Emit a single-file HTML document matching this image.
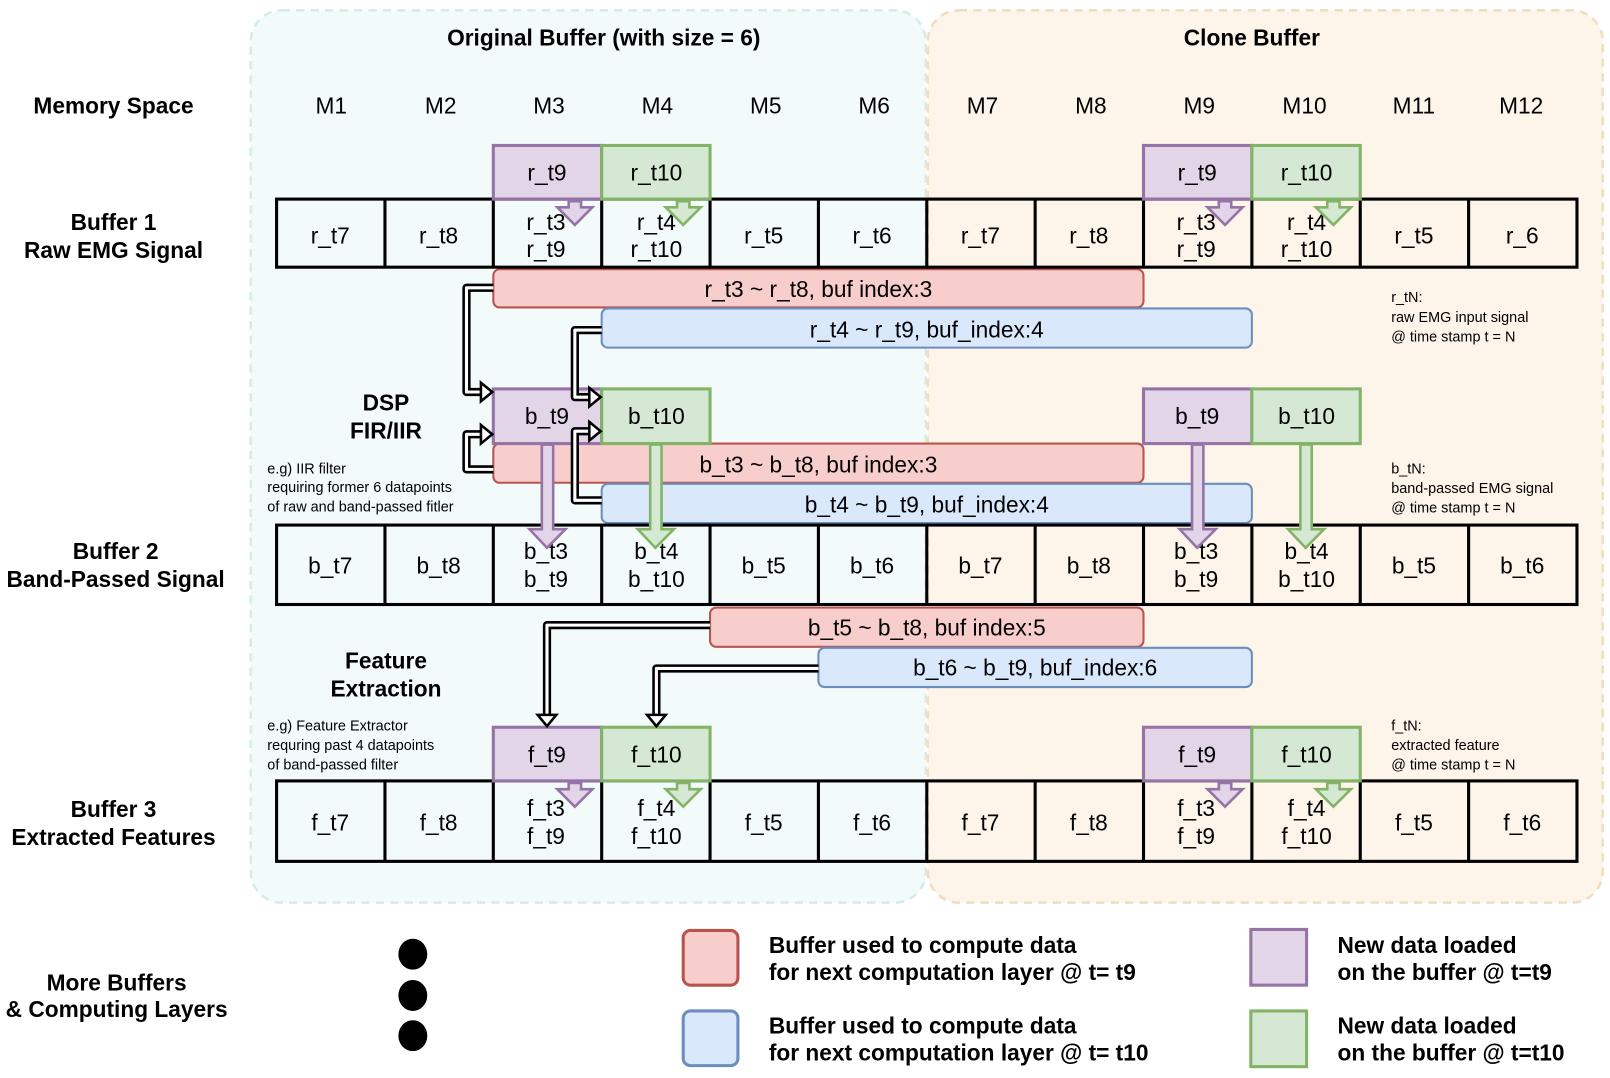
<!DOCTYPE html>
<html><head><meta charset="utf-8"><style>html,body{margin:0;padding:0;background:#fff}svg{display:block}text{font-family:"Liberation Sans",Arial,sans-serif;fill:#000}</style></head>
<body>
<svg width="1610" height="1078" viewBox="0 0 1560 1045" preserveAspectRatio="none" xmlns="http://www.w3.org/2000/svg">
<!-- panels -->
<rect x="243" y="10" width="654" height="865" rx="30" fill="#f2fbfa" stroke="#d4ecea" stroke-width="2.5" stroke-dasharray="8,6"/>
<rect x="899" y="10" width="654" height="865" rx="30" fill="#fdf4ea" stroke="#f2dcc2" stroke-width="2.5" stroke-dasharray="8,6"/>
<g font-size="22" text-anchor="middle">
<text x="585" y="44" font-weight="bold">Original Buffer (with size = 6)</text>
<text x="1213" y="44" font-weight="bold">Clone Buffer</text>
<text x="110" y="110" font-weight="bold">Memory Space</text>
<text x="321" y="110">M1</text><text x="427" y="110">M2</text><text x="532" y="110">M3</text><text x="637" y="110">M4</text><text x="742" y="110">M5</text><text x="847" y="110">M6</text>
<text x="952" y="110">M7</text><text x="1057" y="110">M8</text><text x="1162" y="110">M9</text><text x="1264" y="110">M10</text><text x="1370" y="110">M11</text><text x="1474" y="110">M12</text>
<text x="110" y="223" font-weight="bold">Buffer 1</text><text x="110" y="250" font-weight="bold">Raw EMG Signal</text>
<text x="112" y="542" font-weight="bold">Buffer 2</text><text x="112" y="569" font-weight="bold">Band-Passed Signal</text>
<text x="110" y="792" font-weight="bold">Buffer 3</text><text x="110" y="819" font-weight="bold">Extracted Features</text>
<text x="374" y="398" font-weight="bold">DSP</text><text x="374" y="425" font-weight="bold">FIR/IIR</text>
<text x="374" y="648" font-weight="bold">Feature</text><text x="374" y="675" font-weight="bold">Extraction</text>
<text x="113" y="960" font-weight="bold">More Buffers</text><text x="113" y="986" font-weight="bold">&amp; Computing Layers</text>
</g>
<g font-size="14">
<text x="259" y="459">e.g) IIR filter</text><text x="259" y="477">requiring former 6 datapoints</text><text x="259" y="496">of raw and band-passed fitler</text>
<text x="259" y="708">e.g) Feature Extractor</text><text x="259" y="727">requring past 4 datapoints</text><text x="259" y="746">of band-passed filter</text>
<text x="1348" y="293">r_tN:</text><text x="1348" y="312">raw EMG input signal</text><text x="1348" y="331">@ time stamp t = N</text>
<text x="1348" y="459">b_tN:</text><text x="1348" y="478">band-passed EMG signal</text><text x="1348" y="497">@ time stamp t = N</text>
<text x="1348" y="708">f_tN:</text><text x="1348" y="727">extracted feature</text><text x="1348" y="746">@ time stamp t = N</text>
</g>
<!-- bars -->
<g stroke-width="2">
<rect x="478" y="261" width="630" height="37" rx="6" fill="#f8cecc" stroke="#b85450"/>
<rect x="583" y="299" width="630" height="38" rx="6" fill="#dae8fc" stroke="#6c8ebf"/>
<rect x="478" y="430" width="630" height="38" rx="6" fill="#f8cecc" stroke="#b85450"/>
<rect x="583" y="469" width="630" height="38" rx="6" fill="#dae8fc" stroke="#6c8ebf"/>
<rect x="688" y="589" width="420" height="38" rx="6" fill="#f8cecc" stroke="#b85450"/>
<rect x="793" y="628" width="420" height="38" rx="6" fill="#dae8fc" stroke="#6c8ebf"/>
</g>
<g font-size="22" text-anchor="middle">
<text x="793" y="288">r_t3 ~ r_t8, buf index:3</text>
<text x="898" y="327">r_t4 ~ r_t9, buf_index:4</text>
<text x="793" y="458">b_t3 ~ b_t8, buf index:3</text>
<text x="898" y="497">b_t4 ~ b_t9, buf_index:4</text>
<text x="898" y="616">b_t5 ~ b_t8, buf index:5</text>
<text x="1003" y="655">b_t6 ~ b_t9, buf_index:6</text>
</g>
<!-- grids -->
<g fill="none" stroke="#000" stroke-width="3">
<rect x="268" y="193" width="1260" height="66"/>
<rect x="268" y="509" width="1260" height="77"/>
<rect x="268" y="757" width="1260" height="78"/>
<path d="M373,193V259M478,193V259M583,193V259M688,193V259M793,193V259M898,193V259M1003,193V259M1108,193V259M1213,193V259M1318,193V259M1423,193V259"/>
<path d="M373,509V586M478,509V586M583,509V586M688,509V586M793,509V586M898,509V586M1003,509V586M1108,509V586M1213,509V586M1318,509V586M1423,509V586"/>
<path d="M373,757V835M478,757V835M583,757V835M688,757V835M793,757V835M898,757V835M1003,757V835M1108,757V835M1213,757V835M1318,757V835M1423,757V835"/>
</g>
<!-- new data boxes -->
<g stroke-width="3">
<rect x="478" y="141" width="105" height="52" fill="#e1d5e7" stroke="#9673a6"/><rect x="583" y="141" width="105" height="52" fill="#d5e8d4" stroke="#82b366"/>
<rect x="1108" y="141" width="105" height="52" fill="#e1d5e7" stroke="#9673a6"/><rect x="1213" y="141" width="105" height="52" fill="#d5e8d4" stroke="#82b366"/>
<rect x="478" y="377" width="105" height="53" fill="#e1d5e7" stroke="#9673a6"/><rect x="583" y="377" width="105" height="53" fill="#d5e8d4" stroke="#82b366"/>
<rect x="1108" y="377" width="105" height="53" fill="#e1d5e7" stroke="#9673a6"/><rect x="1213" y="377" width="105" height="53" fill="#d5e8d4" stroke="#82b366"/>
<rect x="478" y="705" width="105" height="52" fill="#e1d5e7" stroke="#9673a6"/><rect x="583" y="705" width="105" height="52" fill="#d5e8d4" stroke="#82b366"/>
<rect x="1108" y="705" width="105" height="52" fill="#e1d5e7" stroke="#9673a6"/><rect x="1213" y="705" width="105" height="52" fill="#d5e8d4" stroke="#82b366"/>
</g>
<!-- cell text -->
<g font-size="22" text-anchor="middle">
<text x="530" y="175">r_t9</text><text x="636" y="175">r_t10</text><text x="1160" y="175">r_t9</text><text x="1266" y="175">r_t10</text>
<text x="530" y="411">b_t9</text><text x="636" y="411">b_t10</text><text x="1160" y="411">b_t9</text><text x="1266" y="411">b_t10</text>
<text x="530" y="739">f_t9</text><text x="636" y="739">f_t10</text><text x="1160" y="739">f_t9</text><text x="1266" y="739">f_t10</text>

<text x="320" y="236">r_t7</text><text x="425" y="236">r_t8</text><text x="529" y="223">r_t3</text><text x="529" y="249">r_t9</text><text x="636" y="223">r_t4</text><text x="636" y="249">r_t10</text><text x="740" y="236">r_t5</text><text x="845" y="236">r_t6</text>
<text x="950" y="236">r_t7</text><text x="1055" y="236">r_t8</text><text x="1159" y="223">r_t3</text><text x="1159" y="249">r_t9</text><text x="1266" y="223">r_t4</text><text x="1266" y="249">r_t10</text><text x="1370" y="236">r_t5</text><text x="1475" y="236">r_6</text>

<text x="320" y="556">b_t7</text><text x="425" y="556">b_t8</text><text x="529" y="542">b_t3</text><text x="529" y="569">b_t9</text><text x="636" y="542">b_t4</text><text x="636" y="569">b_t10</text><text x="740" y="556">b_t5</text><text x="845" y="556">b_t6</text>
<text x="950" y="556">b_t7</text><text x="1055" y="556">b_t8</text><text x="1159" y="542">b_t3</text><text x="1159" y="569">b_t9</text><text x="1266" y="542">b_t4</text><text x="1266" y="569">b_t10</text><text x="1370" y="556">b_t5</text><text x="1475" y="556">b_t6</text>

<text x="320" y="805">f_t7</text><text x="425" y="805">f_t8</text><text x="529" y="791">f_t3</text><text x="529" y="818">f_t9</text><text x="636" y="791">f_t4</text><text x="636" y="818">f_t10</text><text x="740" y="805">f_t5</text><text x="845" y="805">f_t6</text>
<text x="950" y="805">f_t7</text><text x="1055" y="805">f_t8</text><text x="1159" y="791">f_t3</text><text x="1159" y="818">f_t9</text><text x="1266" y="791">f_t4</text><text x="1266" y="818">f_t10</text><text x="1370" y="805">f_t5</text><text x="1475" y="805">f_t6</text>
</g>
<!-- small hollow arrows -->
<g stroke-width="2.5" stroke-linejoin="miter">
<g fill="#e1d5e7" stroke="#9673a6">
<polygon points="551,195 563,195 563,201 574,201 557,218 540,201 551,201"/>
<polygon points="1181,195 1193,195 1193,201 1204,201 1187,218 1170,201 1181,201"/>
<polygon points="551,759 563,759 563,765 574,765 557,782 540,765 551,765"/>
<polygon points="1181,759 1193,759 1193,765 1204,765 1187,782 1170,765 1181,765"/>
<polygon points="525,431 536,431 536,513 548,513 530,531 513,513 525,513"/>
<polygon points="1155,431 1166,431 1166,513 1178,513 1160,531 1143,513 1155,513"/>
</g>
<g fill="#d5e8d4" stroke="#82b366">
<polygon points="656,195 668,195 668,201 679,201 662,218 645,201 656,201"/>
<polygon points="1286,195 1298,195 1298,201 1309,201 1292,218 1275,201 1286,201"/>
<polygon points="656,759 668,759 668,765 679,765 662,782 645,765 656,765"/>
<polygon points="1286,759 1298,759 1298,765 1309,765 1292,782 1275,765 1286,765"/>
<polygon points="630,431 641,431 641,513 653,513 635,531 618,513 630,513"/>
<polygon points="1260,431 1271,431 1271,513 1283,513 1265,531 1248,513 1260,513"/>
</g>
</g>
<!-- black hollow connectors -->
<g fill="none" stroke-linejoin="round">
<g stroke="#000" stroke-width="8">
<path d="M478,279H452V380H466"/>
<path d="M478,455H452V421H466"/>
<path d="M583,320H557V385H571"/>
<path d="M583,485H557V418H571"/>
<path d="M688,606H530V693"/>
<path d="M793,648H636V693"/>
</g>
<g stroke="#fff" stroke-width="3">
<path d="M478,279H452V380H468"/>
<path d="M478,455H452V421H468"/>
<path d="M583,320H557V385H573"/>
<path d="M583,485H557V418H573"/>
<path d="M688,606H530V695"/>
<path d="M793,648H636V695"/>
</g>
</g>
<g fill="#fff" stroke="#000" stroke-width="2.5">
<polygon points="466,371 477,380 466,389"/>
<polygon points="466,412 477,421 466,430"/>
<polygon points="571,376 582,385 571,394"/>
<polygon points="571,409 582,418 571,427"/>
<polygon points="521,693 530,704 539,693"/>
<polygon points="627,693 636,704 645,693"/>
</g>
<!-- dots -->
<ellipse cx="400" cy="925" rx="14" ry="15"/><ellipse cx="400" cy="965" rx="14" ry="15"/><ellipse cx="400" cy="1004" rx="14" ry="15"/>
<!-- legend -->
<g stroke-width="3">
<rect x="662" y="902" width="53" height="53" rx="7" fill="#f8cecc" stroke="#b85450"/>
<rect x="662" y="980" width="53" height="53" rx="7" fill="#dae8fc" stroke="#6c8ebf"/>
<rect x="1212" y="901" width="54" height="54" fill="#e1d5e7" stroke="#9673a6"/>
<rect x="1212" y="980" width="54" height="54" fill="#d5e8d4" stroke="#82b366"/>
</g>
<g font-size="22" font-weight="bold">
<text x="745" y="924">Buffer used to compute data</text>
<text x="745" y="950">for next computation layer @ t= t9</text>
<text x="745" y="1002">Buffer used to compute data</text>
<text x="745" y="1028">for next computation layer @ t= t10</text>
<text x="1296" y="924">New data loaded</text>
<text x="1296" y="950">on the buffer @ t=t9</text>
<text x="1296" y="1002">New data loaded</text>
<text x="1296" y="1028">on the buffer @ t=t10</text>
</g>
</svg>
</body></html>
